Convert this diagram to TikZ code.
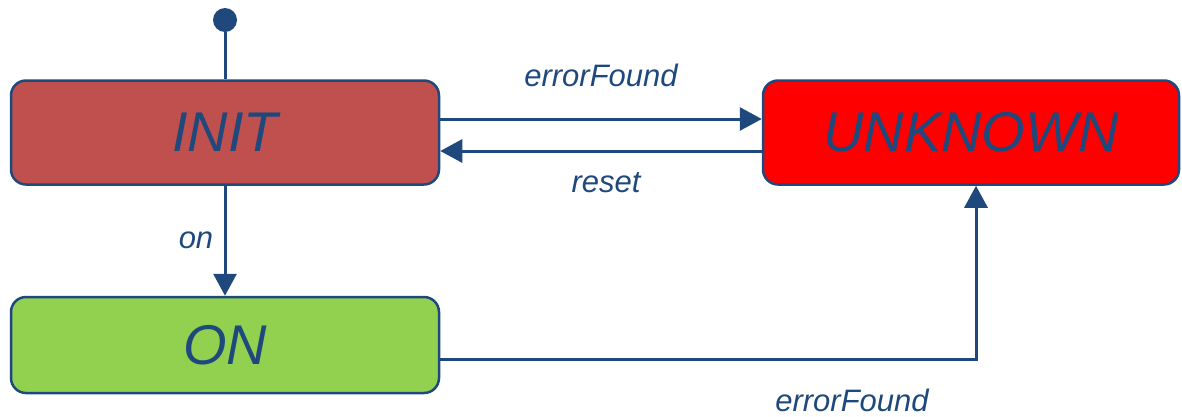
\documentclass[tikz,border=0pt]{standalone}
\usepackage{fontspec}
\setmainfont{Liberation Sans}
\usetikzlibrary{arrows.meta}
\definecolor{navy}{HTML}{1F497D}
\definecolor{initred}{HTML}{C0504D}
\definecolor{errred}{HTML}{FF0000}
\definecolor{ongreen}{HTML}{92D050}
\begin{document}
\begin{tikzpicture}[x=1pt,y=-1pt,
  state/.style={draw=navy, line width=2.5pt, rounded corners=15pt,
    inner sep=0pt, text=navy, font=\fontsize{56}{60}\selectfont\itshape},
  trans/.style={draw=navy, line width=3pt, -{Triangle[length=22pt,width=23pt]}},
  lbl/.style={text=navy, inner sep=1pt, font=\fontsize{31}{36}\selectfont\itshape}]
\useasboundingbox (0,0) rectangle (1182,416);

% states
\node[state, fill=initred, minimum width=428pt, minimum height=104pt] (init) at (225,132.5) {INIT};
\node[state, fill=errred, minimum width=416pt, minimum height=104pt] (unknown) at (971,132.5) {UNKNOWN};
\node[state, fill=ongreen, minimum width=428pt, minimum height=96pt] (on) at (225,345) {ON};

% initial pseudo-state
\node[circle, fill=navy, minimum size=24pt, inner sep=0pt] (start) at (225,20) {};
\draw[navy, line width=3pt] (start) -- (init.north);

% transitions
\draw[trans] ([yshift=13.5pt]init.east) -- ([yshift=13.5pt]unknown.west);
\draw[trans] ([yshift=-18.5pt]unknown.west) -- ([yshift=-18.5pt]init.east);
\draw[trans] (init.south) -- (on.north);
\draw[trans] ([yshift=-14pt]on.east) -| ([xshift=5pt]unknown.south);

% labels
\node[lbl] (lerr1) at (601,75) {errorFound};
\node[lbl] (lreset) at (606,183) {reset};
\node[lbl] (lon) at (196,240) {on};
\node[lbl] (lerr2) at (852,400) {errorFound};
\end{tikzpicture}
\end{document}
